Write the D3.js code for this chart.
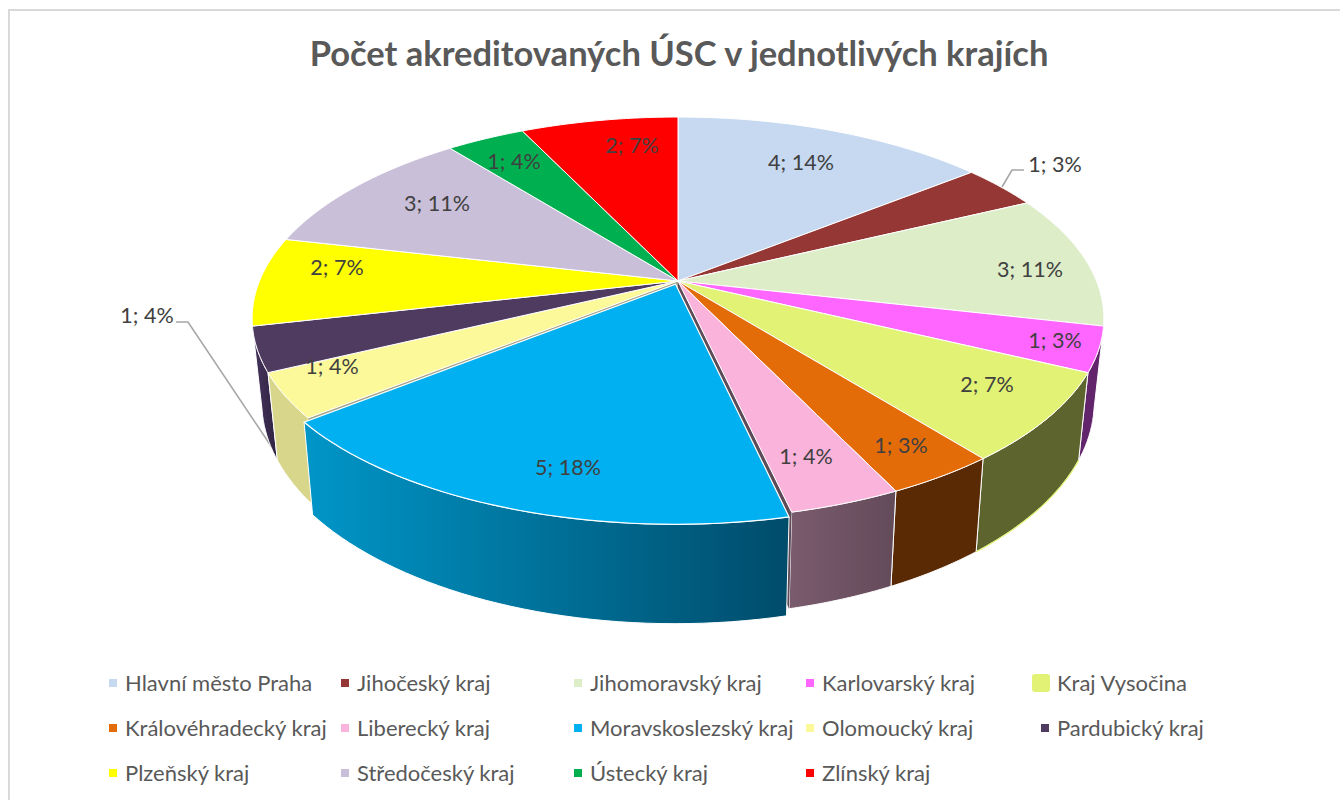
<!DOCTYPE html>
<html>
<head>
<meta charset="utf-8">
<script src="https://cdn.jsdelivr.net/npm/d3@7"></script>
<style>
    html, body { margin: 0; background: #fff; }
    svg { display: block; }
    text { font-family: Lato, "Open Sans", sans-serif; }
</style>
</head>
<body>
<svg width="1340" height="800"></svg>
<script>
// 3D pie with perspective, excel style
const regions = ['Hlavní město Praha', 'Jihočeský kraj', 'Jihomoravský kraj', 'Karlovarský kraj', 'Kraj Vysočina',
    'Královéhradecký kraj', 'Liberecký kraj', 'Moravskoslezský kraj', 'Olomoucký kraj', 'Pardubický kraj',
    'Plzeňský kraj', 'Středočeský kraj', 'Ústecký kraj', 'Zlínský kraj'];
const counts = [4, 1, 3, 1, 2, 1, 1, 5, 1, 1, 2, 3, 1, 2];
const percents = [14, 3, 11, 3, 7, 3, 4, 18, 4, 4, 7, 11, 4, 7];
const topColors = ['#c6d9f0', '#953735', '#dcedc8', '#ff66ff', '#e1f275', '#e36c09', '#fab4dc',
    '#00b0f0', '#fcf99a', '#4f3a60', '#ffff00', '#c9bfd9', '#00b050', '#ff0000'];
const wallColors = ['#000', '#000', '#000', '#62246b', '#5d642e', '#5a2a04', 'url(#wallLib)',
    'url(#wallMs)', '#d8d68a', 'url(#wallPar)', '#000', '#000', '#000', '#000'];

// label centres, px
const labelSpots = [[801, 162], [1055, 164], [1030, 269], [1055, 340], [987, 384], [901, 445], [806, 456],
    [568, 467], [332, 366], [147, 315], [337, 267], [437, 203], [514, 161], [632, 145]];

const legendCols = [113, 345, 578, 810, 1045];
const legendRows = [683, 728, 773];

const svg = d3.select('svg');

// perspective: unit circle -> screen. apex is the circle centre seen from above
const cx = 678, apexY = 281;
const upperDisc = { a: 418.5, b: 194.3, k: 0.185, y0: apexY };
const lowerDisc = { a: 409, b: 207, k: 0.185, y0: 362.5 };
const explodeBy = 0.0176;
const explodedDrop = 2;

const project = (disc, u, v) => {
    const w = 1 - disc.k * v;
    return [cx + disc.a * u / w, disc.y0 + disc.b * v / w];
};
const rim = (a0, a1) => d3.range(0, 41).map(i => {
    const t = a0 + (a1 - a0) * i / 40;
    return [Math.sin(t), -Math.cos(t)];
});

const pie = d3.pie().sort(null).startAngle(0).endAngle(Math.PI * 2);
const slices = pie(counts);
const line = d3.line();

// gradients on the walls
const defs = svg.append('defs');
const addGradient = (id, x1, x2, c1, c2) => {
    const g = defs.append('linearGradient')
        .attr('id', id)
        .attr('gradientUnits', 'userSpaceOnUse')
        .attr('x1', x1).attr('x2', x2).attr('y1', 0).attr('y2', 0);
    g.append('stop').attr('offset', 0).attr('stop-color', c1);
    g.append('stop').attr('offset', 1).attr('stop-color', c2);
};
addGradient('wallMs', 305, 788, '#0096c8', '#004c6b');
addGradient('wallLib', 790, 893, '#7a5b6d', '#644b5a');
addGradient('wallPar', 254, 278, '#46345c', '#2e2240');

// frame, only top and left edges fall inside the picture
svg.append('rect')
    .attr('x', 9).attr('y', 10)
    .attr('width', 1400).attr('height', 900)
    .attr('fill', 'none')
    .attr('stroke', '#d9d9d9')
    .attr('stroke-width', 2);

svg.append('text')
    .attr('x', 679).attr('y', 66)
    .attr('text-anchor', 'middle')
    .attr('font-size', 34.5)
    .attr('font-weight', 700)
    .attr('fill', '#595959')
    .text('Počet akreditovaných ÚSC v jednotlivých krajích');

// leader lines
const leaders = [
    [[1002, 187], [1012, 170], [1024, 170]],
    [[176, 322], [188, 322], [279, 458]],
];
svg.append('g')
    .selectAll('path')
    .data(leaders)
    .join('path')
    .attr('d', d => line(d))
    .attr('fill', 'none')
    .attr('stroke', '#a6a6a6')
    .attr('stroke-width', 1.6);

const isExploded = i => i === 7;
const shift = i => {
    if (!isExploded(i)) return [0, 0];
    const mid = (slices[i].startAngle + slices[i].endAngle) / 2;
    return [Math.sin(mid) * explodeBy, -Math.cos(mid) * explodeBy];
};

const wallPath = i => {
    const s = slices[i];
    const [du, dv] = shift(i);
    const pts = rim(s.startAngle, s.endAngle).map(([u, v]) => [u + du, v + dv]);
    const drop = isExploded(i) ? explodedDrop : 0;
    const upper = pts.map(([u, v]) => project(upperDisc, u, v));
    const lower = pts.map(([u, v]) => {
        const p = project(lowerDisc, u, v);
        return [p[0], p[1] + drop];
    }).reverse();
    return line(upper.concat(lower)) + 'Z';
};

const topPath = i => {
    const s = slices[i];
    const [du, dv] = shift(i);
    const pts = [[0, 0]].concat(rim(s.startAngle, s.endAngle)).map(([u, v]) => [u + du, v + dv]);
    return line(pts.map(([u, v]) => project(upperDisc, u, v))) + 'Z';
};

// inner cut faces that show in the gap next to the pulled out slice
const cutFace = (angle, color) => {
    const u = Math.sin(angle), v = -Math.cos(angle);
    const pts = [project(upperDisc, 0, 0), project(upperDisc, u, v), project(lowerDisc, u, v), project(lowerDisc, 0, 0)];
    svg.append('path').attr('d', line(pts) + 'Z').attr('fill', color);
};

const frontWalls = [3, 4, 5, 6, 9, 8];
svg.append('g')
    .selectAll('path')
    .data(frontWalls)
    .join('path')
    .attr('d', wallPath)
    .attr('fill', i => wallColors[i])
    .attr('stroke', '#fff')
    .attr('stroke-width', 1);

// yellow-green edge under the Vysočina wall
const vys = slices[4];
svg.append('path')
    .attr('d', line(rim(vys.startAngle, vys.endAngle).map(([u, v]) => project(lowerDisc, u, v))))
    .attr('fill', 'none')
    .attr('stroke', topColors[4])
    .attr('stroke-width', 1.2);

cutFace(slices[6].endAngle, '#5f4a58');
cutFace(slices[8].startAngle, '#a5a48a');

const tops = d3.range(counts.length).filter(i => !isExploded(i));
svg.append('g')
    .selectAll('path')
    .data(tops)
    .join('path')
    .attr('d', topPath)
    .attr('fill', i => topColors[i])
    .attr('stroke', '#fff')
    .attr('stroke-width', 1);

// exploded slice last
svg.append('path')
    .attr('d', wallPath(7))
    .attr('fill', wallColors[7])
    .attr('stroke', '#fff')
    .attr('stroke-width', 1);
svg.append('path')
    .attr('d', topPath(7))
    .attr('fill', topColors[7])
    .attr('stroke', '#fff')
    .attr('stroke-width', 1.2);

svg.append('g')
    .selectAll('text')
    .data(counts)
    .join('text')
    .attr('x', (_d, i) => labelSpots[i][0])
    .attr('y', (_d, i) => labelSpots[i][1])
    .attr('dy', '0.35em')
    .attr('text-anchor', 'middle')
    .attr('font-size', 21.5)
    .attr('fill', '#404040')
    .text((d, i) => `${d}; ${percents[i]}%`);

// legend
const legend = svg.append('g')
    .selectAll('g')
    .data(regions)
    .join('g')
    .attr('transform', (_d, i) => {
        const col = i < 10 ? i % 5 : i - 10;
        const row = i < 10 ? Math.floor(i / 5) : 2;
        return `translate(${legendCols[col]},${legendRows[row]})`;
    });

legend.append('rect')
    .attr('x', (_d, i) => i === 4 ? -13 : -4)
    .attr('y', (_d, i) => i === 4 ? -9 : -4)
    .attr('width', (_d, i) => i === 4 ? 18 : 8)
    .attr('height', (_d, i) => i === 4 ? 18 : 8)
    .attr('rx', (_d, i) => i === 4 ? 3 : 0)
    .attr('fill', (_d, i) => topColors[i]);

legend.append('text')
    .attr('x', 12)
    .attr('dy', '0.35em')
    .attr('font-size', 22)
    .attr('fill', '#595959')
    .text(d => d);
</script>
</body>
</html>
